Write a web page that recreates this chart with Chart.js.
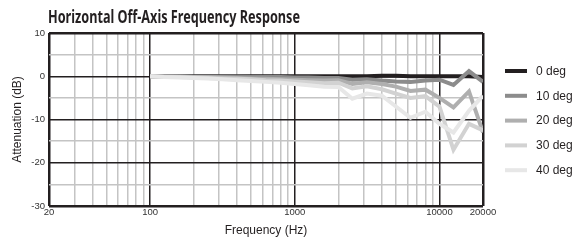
<!DOCTYPE html>
<html>
<head>
<meta charset="utf-8">
<script src="https://cdn.jsdelivr.net/npm/chart.js@4"></script>
<style>
  html, body { margin: 0; padding: 0; background: #fff; }
  #wrap { width: 578px; height: 241px; }
</style>
</head>
<body>
<div id="wrap"><canvas id="chart" width="578" height="241"></canvas></div>
<script>
// 1/3 octave points, 100 Hz - 20 kHz
const freqs = [100, 125, 160, 200, 250, 315, 400, 500, 630, 800, 1000, 1250, 1600, 2000, 2500, 3150, 4000, 5000, 6300, 8000, 10000, 12500, 16000, 20000];

const deg0  = [0, 0, 0, 0, 0, 0, 0, 0, 0, 0, 0, 0, 0, 0, 0, 0, 0.1, 0.1, 0, 0, 0, 0, 0, -0.2];
const deg10 = [0, 0, 0, -0.1, -0.1, -0.1, -0.1, -0.2, -0.2, -0.2, -0.3, -0.3, -0.4, -0.4, -0.8, -0.7, -1, -1.2, -1.3, -1, -0.8, -2, 1.2, -1.3];
const deg20 = [0, -0.1, -0.1, -0.2, -0.2, -0.3, -0.4, -0.5, -0.6, -0.7, -0.8, -0.9, -1, -0.9, -1.8, -1.4, -1.8, -2.4, -3.4, -3.1, -5, -7.2, -3.5, -13];
const deg30 = [0, -0.1, -0.2, -0.3, -0.4, -0.5, -0.6, -0.7, -0.9, -1, -1.2, -1.4, -1.6, -1.5, -2.8, -2.3, -3, -4, -5, -4.6, -7, -17, -11, -12.5];
const deg40 = [0, -0.2, -0.3, -0.4, -0.5, -0.7, -0.9, -1.1, -1.3, -1.5, -1.8, -2.1, -2.4, -2.5, -5.2, -4, -4.5, -7, -9.6, -8.2, -11, -13, -8, -4.5];

const seriesNames = ['0 deg', '10 deg', '20 deg', '30 deg', '40 deg'];
const seriesColors = ['#231f20', '#8c8c8c', '#afafaf', '#d2d2d2', '#e7e7e7'];
const seriesValues = [deg0, deg10, deg20, deg30, deg40];

const xLabelTicks = [20, 100, 1000, 10000, 20000];
const xMajor = [100, 1000, 10000];
const yLabelTicks = [10, 0, -10, -20, -30];

const fontFamily = "'Liberation Sans', Arial, sans-serif";

// title + legend drawn on the canvas
const extras = {
    id: 'extras',
    afterDraw(chart) {
        const ctx = chart.ctx;
        ctx.save();
        ctx.fillStyle = '#231f20';
        ctx.textBaseline = 'alphabetic';
        ctx.textAlign = 'left';
        ctx.font = "bold 18px 'Noto Sans', 'Liberation Sans', sans-serif";
        ctx.fillText('Horizontal Off-Axis Frequency Response', 48, 23, 252);

        ctx.font = '12px ' + fontFamily;
        ctx.textBaseline = 'middle';
        chart.data.datasets.forEach((ds, i) => {
            const y = 71 + i * 24.8;
            ctx.fillStyle = ds.borderColor;
            ctx.fillRect(505, y - 2, 22, 4);
            ctx.fillStyle = '#231f20';
            ctx.fillText(ds.label, 536, y + 0.5);
        });
        ctx.restore();
    }
};

const ctx = document.getElementById('chart').getContext('2d');
new Chart(ctx, {
    type: 'line',
    data: {
        datasets: seriesNames.map((name, i) => ({
            label: name,
            data: freqs.map((f, j) => ({ x: f, y: seriesValues[i][j] })),
            borderColor: seriesColors[i],
            backgroundColor: seriesColors[i],
            borderWidth: 4,
            pointRadius: 0,
            tension: 0,
            fill: false,
            order: seriesNames.length - i,   // lighter curves drawn over darker ones
            borderJoinStyle: 'miter'
        }))
    },
    options: {
        responsive: false,
        animation: false,
        layout: { padding: { left: 0, right: 95, top: 33, bottom: 0 } },
        plugins: {
            legend: { display: false },
            tooltip: { enabled: false },
            title: { display: false }
        },
        scales: {
            x: {
                type: 'logarithmic',
                min: 20,
                max: 20000,
                afterBuildTicks: (scale) => {
                    const t = [];
                    [10, 100, 1000, 10000].forEach(d => {
                        for (let k = 1; k <= 9; k++) {
                            const v = d * k;
                            if (v >= 20 && v <= 20000) t.push({ value: v });
                        }
                    });
                    scale.ticks = t;
                },
                afterFit: (scale) => { scale.height = 35; },
                ticks: {
                    autoSkip: false,
                    maxRotation: 0,
                    padding: 1,
                    color: '#333',
                    font: { family: fontFamily, size: 9.5 },
                    callback: (v) => xLabelTicks.includes(v) ? String(v) : ''
                },
                grid: {
                    drawTicks: false,
                    color: (c) => (xMajor.includes(c.tick.value) || c.tick.value === 20 || c.tick.value === 20000) ? '#231f20' : '#c4c4c4',
                    lineWidth: (c) => (c.tick.value === 20 || c.tick.value === 20000) ? 2.5 : 1.5
                },
                border: { display: false },
                title: {
                    display: true,
                    text: 'Frequency (Hz)',
                    color: '#231f20',
                    font: { family: fontFamily, size: 12 },
                    padding: { top: 0, bottom: 3 }
                }
            },
            y: {
                min: -30,
                max: 10,
                afterFit: (scale) => { scale.width = 49; },
                ticks: {
                    stepSize: 5,
                    autoSkip: false,
                    padding: 4,
                    color: '#333',
                    font: { family: fontFamily, size: 9.5 },
                    callback: (v) => yLabelTicks.includes(v) ? String(v) : ''
                },
                grid: {
                    drawTicks: false,
                    color: (c) => (c.tick.value % 10 === 0) ? '#231f20' : '#c4c4c4',
                    lineWidth: (c) => (c.tick.value === 10 || c.tick.value === -30) ? 2.5 : 1.5
                },
                border: { display: false },
                title: {
                    display: true,
                    text: 'Attenuation (dB)',
                    color: '#231f20',
                    font: { family: fontFamily, size: 12 },
                    padding: { top: 10, bottom: 0 }
                }
            }
        }
    },
    plugins: [extras]
});
</script>
</body>
</html>
